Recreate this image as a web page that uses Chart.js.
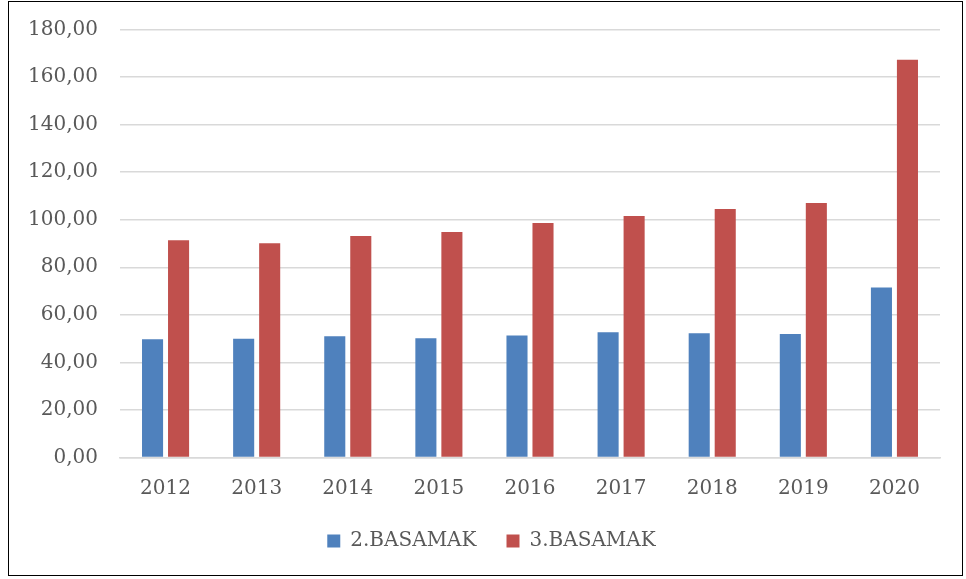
<!DOCTYPE html>
<html>
<head>
<meta charset="utf-8">
<script src="https://cdn.jsdelivr.net/npm/chart.js@4.4.0/dist/chart.umd.min.js"></script>
<style>
  body { margin: 0; background: #fff; }
  #wrap {
    position: absolute; left: 8px; top: 1px;
    width: 955px; height: 575px;
    border: 1.5px solid #000; box-sizing: border-box;
  }
</style>
</head>
<body>
<div id="wrap"><canvas id="myChart"></canvas></div>
<script>
const years = ['2012', '2013', '2014', '2015', '2016', '2017', '2018', '2019', '2020'];
const basamak2 = [49.7, 49.9, 51.0, 50.2, 51.3, 52.7, 52.3, 51.9, 71.5];
const basamak3 = [91.4, 90.1, 93.2, 94.8, 98.6, 101.6, 104.5, 107.0, 167.3];

const fontFamily = "'DejaVu Serif', 'Liberation Serif', serif";

// legend sits a bit right of the canvas centre in the original
const legendShift = {
    id: 'legendShift',
    afterLayout: function (chart) {
        chart.legend.left += 17;
        chart.legend.right += 17;
    }
};

const ctx = document.getElementById('myChart').getContext('2d');
chart = new Chart(ctx, {
    type: 'bar',
    data: {
        labels: years,
        datasets: [{
            label: '2.BASAMAK',
            data: basamak2,
            backgroundColor: '#4f81bd',
            categoryPercentage: 0.571,
            barPercentage: 0.81
        }, {
            label: '3.BASAMAK',
            data: basamak3,
            backgroundColor: '#c0504d',
            categoryPercentage: 0.571,
            barPercentage: 0.81
        }]
    },
    options: {
        responsive: true,
        maintainAspectRatio: false,
        animation: false,
        layout: {
            padding: { left: 0, right: 22, top: 27.5, bottom: 14 }
        },
        scales: {
            x: {
                afterFit: function (scale) {
                    scale.height = 43.5;
                },
                grid: { display: false, drawTicks: false },
                border: { color: '#d9d9d9', width: 1.5 },
                ticks: {
                    color: '#595959',
                    padding: 19,
                    font: { family: fontFamily, size: 20 }
                }
            },
            y: {
                min: 0,
                max: 180,
                afterFit: function (scale) {
                    scale.width = 111;
                    scale.paddingTop = 0;
                    scale.paddingBottom = 0;
                },
                grid: { color: '#d9d9d9', lineWidth: 1.5, drawTicks: false },
                border: { display: false },
                ticks: {
                    stepSize: 20,
                    color: '#595959',
                    padding: 22,
                    font: { family: fontFamily, size: 20 },
                    callback: function (value) {
                        return value.toFixed(2).replace('.', ',');
                    }
                }
            }
        },
        plugins: {
            legend: {
                position: 'bottom',
                labels: {
                    color: '#595959',
                    boxWidth: 13,
                    boxHeight: 13,
                    padding: 30,
                    font: { family: fontFamily, size: 20 }
                }
            },
            tooltip: { enabled: false }
        }
    },
    plugins: [legendShift]
});
</script>
</body>
</html>
